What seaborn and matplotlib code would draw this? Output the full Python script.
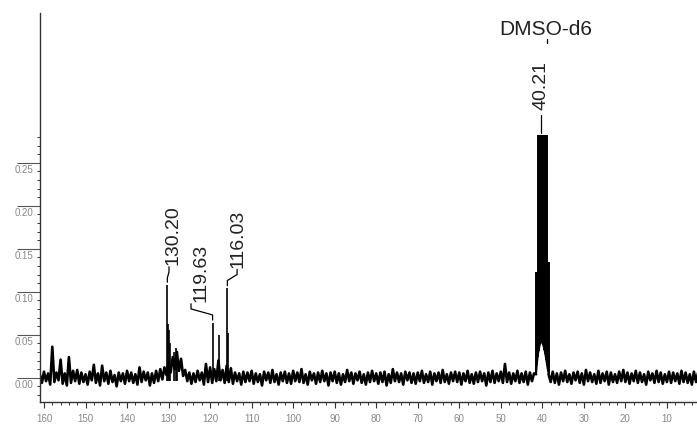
import numpy as np
import matplotlib.pyplot as plt
import matplotlib.transforms as mtransforms
from matplotlib.ticker import FixedLocator, MultipleLocator
import seaborn as sns

# baseline noise, in thousandths, one value every 0.5 ppm
# 161.0 -> 41.5 ppm
noise_a = [
    4, -6, 7, -4, 5, -8, 36, -5, 6, -3, 21, -7, 5, -9, 24, -6, 8, -4, 9, -7,
    6, -5, 4, -8, 7, -3, 15, -6, 5, -9, 14, -4, 6, -7, 8, -5, 3, -10, 6, -4,
    5, -7, 8, -4, 6, -6, 4, -8, 12, -5, 7, -3, 6, -9, 5, -6, 8, -4, 10, -2,
    12, 3, 18, 6, 24, 10, 30, 8, 22, 2, 9, -4, 6, -7, 5, -5, 8, -3, 6, -8,
    16, -5, 12, -6, 10, -4, 20, -3, 9, -6, 14, -5, 11, -7, 6, -4, 5, -8, 7, -5,
    6, -4, 8, -7, 5, -5, 4, -9, 7, -3, 6, -6, 9, -5, 4, -8, 6, -4, 7, -6,
    5, -7, 8, -4, 6, -5, 10, -6, 4, -8, 7, -3, 5, -7, 6, -5, 8, -4, 5, -9,
    6, -4, 7, -6, 5, -8, 4, -5, 9, -4, 6, -7, 5, -3, 7, -6, 4, -8, 6, -5,
    8, -4, 5, -7, 6, -5, 7, -9, 4, -6, 10, -4, 6, -5, 5, -8, 7, -3, 6, -6,
    5, -7, 6, -4, 8, -6, 4, -5, 7, -8, 5, -4, 6, -6, 9, -5, 4, -7, 6, -4,
    7, -5, 6, -8, 5, -4, 8, -6, 4, -7, 6, -5, 7, -4, 5, -9, 6, -5, 8, -6,
    5, -4, 7, -6, 16, -5, 6, -7, 5, -4, 8, -6, 5, -5, 7, -8, 6, -4, 5, 4,
]
# 38.5 -> 2.5 ppm
noise_b = [
    4, -5, 7, -6, 5, -8, 6, -4, 8, -5, 4, -7, 6, -3, 7, -6, 5, -8, 9, -4,
    6, -5, 4, -7, 8, -6, 5, -4, 7, -8, 6, -5, 4, -6, 7, -4, 9, -5, 6, -7,
    5, -4, 8, -6, 6, -5, 4, -8, 7, -3, 5, -6, 8, -5, 6, -7, 4, -5, 7, -6,
    6, -4, 5, -7, 8, -5, 6, -6, 4, -8, 7, -5, 6,
]

# sample signals
peak_ppm = [130.30, 130.05, 129.85, 129.60, 128.60, 128.30, 127.90,
            119.40, 117.80, 115.85, 115.65]
peak_int = [0.108, 0.062, 0.055, 0.040, 0.030, 0.034, 0.026,
            0.064, 0.050, 0.104, 0.052]

# DMSO-d6 septet (solvent)
dmso_ppm = [41.45, 41.3, 41.1, 40.9, 40.7, 40.5, 40.3, 40.1,
            39.9, 39.7, 39.5, 39.3, 39.1, 38.9, 38.7, 38.5]
dmso_top = [0.123, 0.123, 0.282, 0.282, 0.282, 0.282, 0.282, 0.282,
            0.282, 0.282, 0.282, 0.282, 0.282, 0.282, 0.134, 0.134]
dmso_base = [0.006, 0.015, 0.024, 0.031, 0.036, 0.040, 0.042, 0.041,
             0.039, 0.036, 0.032, 0.027, 0.021, 0.015, 0.009, 0.004]

label_text = ['130.20', '119.63', '116.03', '40.21']
label_peak = [130.30, 119.40, 115.85, 40.30]
label_height = [0.108, 0.064, 0.104, 0.282]

sns.set_style('ticks')
plt.rcParams['font.family'] = ['Liberation Sans', 'DejaVu Sans']

fig = plt.figure(figsize=(6.97, 4.25), dpi=100)
ax = fig.add_axes([40 / 697, 23.3 / 425, 657 / 697, 388.7 / 425])

ppm_a = np.linspace(161.0, 41.5, len(noise_a))
ppm_b = np.linspace(38.5, 2.5, len(noise_b))
for xs, ys in [(ppm_a, noise_a), (ppm_b, noise_b)]:
    sns.lineplot(x=xs, y=np.array(ys) / 1000, color='black', lw=1.9,
                 estimator=None, sort=False, ax=ax)

ax.vlines(peak_ppm, -0.004, peak_int, color='black', lw=1.2)

ax.vlines(dmso_ppm, dmso_base, dmso_top, color='black', lw=1.4)
sns.lineplot(x=dmso_ppm, y=dmso_base, color='black', lw=1.2,
             estimator=None, sort=False, ax=ax)

# peak labels: text centre (ppm), text bottom, connector start (ppm)
label_pos = [(128.9, 0.131, 129.9), (122.1, 0.088, 124.6),
             (113.2, 0.128, 113.5), (40.3, 0.311, 40.3)]
for txt, px, top, (tx, ty, cx) in zip(label_text, label_peak, label_height, label_pos):
    ax.text(tx, ty, txt, rotation=90, ha='center', va='bottom',
            fontsize=14, color='#222222')
    if txt == '40.21':
        ax.plot([cx, cx], [ty - 0.006, top + 0.003], color='black', lw=0.9)
    else:
        ax.plot([cx, cx, px, px],
                [ty - 0.002, ty - 0.008, ty - 0.015, top + 0.003],
                color='black', lw=0.9)

ax.text(39.1, 0.405, 'DMSO-d6', ha='center', va='center',
        fontsize=15, color='#222222')
ax.plot([38.9, 38.9], [0.389, 0.394], color='black', lw=0.9)

ax.set_xlim(160.96, 2.76)
ax.set_ylim(-0.0279, 0.4241)
ax.xaxis.set_major_locator(FixedLocator(list(range(160, 0, -10))))
ax.xaxis.set_minor_locator(MultipleLocator(2))
ax.set_yticks([0.0, 0.05, 0.10, 0.15, 0.20, 0.25])
ax.set_yticklabels(['0.00', '0.05', '0.10', '0.15', '0.20', '0.25'])
ax.yaxis.set_minor_locator(FixedLocator(np.round(np.arange(-0.02, 0.285, 0.01), 2)))

sns.despine(ax=ax)
for s in ['left', 'bottom']:
    ax.spines[s].set_linewidth(1.0)
    ax.spines[s].set_color('#333333')

ax.tick_params(axis='x', which='major', direction='out', length=4.3, width=0.8,
               pad=4.5, labelsize=7, labelcolor='#888888', color='#333333')
ax.tick_params(axis='x', which='minor', direction='out', length=2.2, width=0.7,
               color='#333333')
ax.tick_params(axis='y', which='major', direction='out', length=16.5, width=0.8,
               pad=-12, labelsize=7, labelcolor='#888888', color='#555555')
ax.tick_params(axis='y', which='minor', direction='out', length=2.2, width=0.7,
               color='#333333')

# y labels sit under their long tick lines
offset = mtransforms.ScaledTranslation(0, -0.06, fig.dpi_scale_trans)
for tick in ax.yaxis.get_major_ticks():
    tick.label1.set_transform(tick.label1.get_transform() + offset)

ax.set_xlabel('')
ax.set_ylabel('')

plt.savefig('out.png', dpi=100)
